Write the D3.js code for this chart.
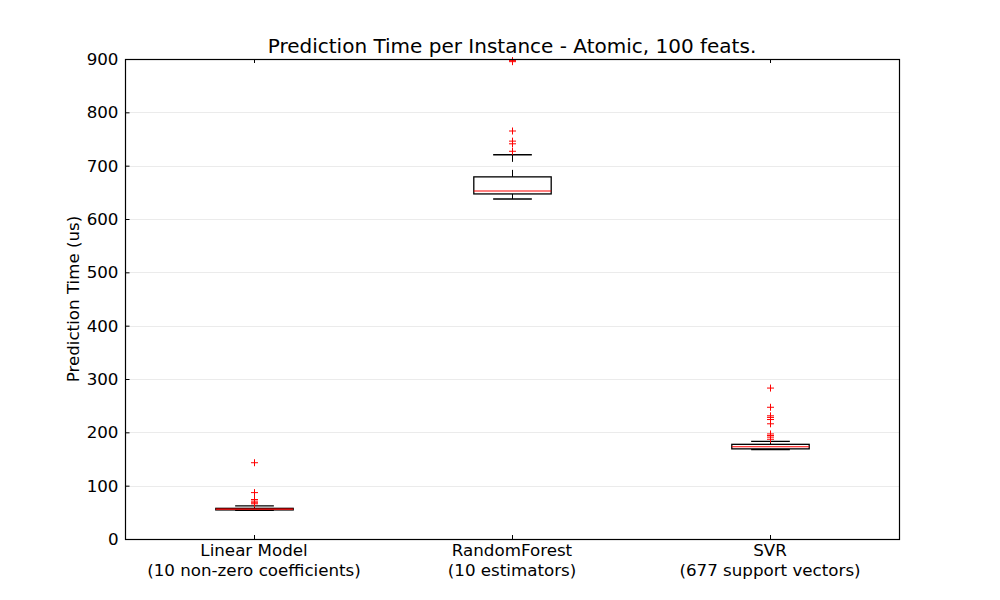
<!DOCTYPE html>
<html>
<head>
<meta charset="utf-8">
<script src="https://cdn.jsdelivr.net/npm/d3@7/dist/d3.min.js"></script>
<style>
  body { margin: 0; background: #fff; }
  svg { display: block; }
  text { font-family: "DejaVu Sans", sans-serif; fill: #000; }
</style>
</head>
<body>
<svg id="chart" width="1000" height="600"></svg>
<script>
// ---- data ----
const categories = ["Linear Model", "RandomForest", "SVR"];
const subLabels = ["(10 non-zero coefficients)", "(10 estimators)", "(677 support vectors)"];
const whiskerLow = [53.5, 637.5, 167.5];
const q1 = [54.5, 647, 169];
const medians = [56, 652.5, 173];
const q3 = [57.5, 679, 177.5];
const whiskerHigh = [62, 720.5, 183];
const outliersLinear = [143, 87, 74, 71, 68, 66];
const outliersForest = [897, 895, 765, 746, 741, 727];
const outliersSVR = [283, 247, 231, 228, 224, 216, 197, 194, 191, 187];
const outliers = [outliersLinear, outliersForest, outliersSVR];
const yTicks = [0, 100, 200, 300, 400, 500, 600, 700, 800, 900];
const titleText = "Prediction Time per Instance - Atomic, 100 feats.";
const yLabelText = "Prediction Time (us)";

// ---- layout ----
const svg = d3.select("#chart");
const pLeft = 125, pRight = 899, pTop = 59, pBottom = 539;
const tickFont = "16.7px";

const x = d3.scaleBand().domain(categories).range([pLeft, pRight]).padding(0);
const y = d3.scaleLinear().domain([0, 900]).range([pBottom, pTop]);
const boxW = x.bandwidth() * 0.3;
const capW = boxW / 2;
const cx = c => x(c) + x.bandwidth() / 2;

// gridlines
svg.append("g").selectAll("line").data(yTicks).join("line")
  .attr("x1", pLeft).attr("x2", pRight)
  .attr("y1", d => Math.round(y(d)) + 0.5).attr("y2", d => Math.round(y(d)) + 0.5)
  .attr("stroke", "#ebebeb").attr("stroke-width", 1);

// y axis (inward ticks)
const yAxis = svg.append("g").attr("transform", `translate(${pLeft + 0.5},0)`)
  .call(d3.axisLeft(y).tickValues(yTicks).tickSize(-4).tickPadding(7));
yAxis.select(".domain").remove();
yAxis.selectAll("text").style("font-size", tickFont).style("font-family", "DejaVu Sans");
yAxis.selectAll("line").attr("stroke", "#000");

// x ticks (inward, top and bottom)
const xTickG = svg.append("g");
categories.forEach(c => {
  xTickG.append("line").attr("x1", Math.round(cx(c)) + 0.5).attr("x2", Math.round(cx(c)) + 0.5)
    .attr("y1", pBottom).attr("y2", pBottom - 4).attr("stroke", "#000");
  xTickG.append("line").attr("x1", Math.round(cx(c)) + 0.5).attr("x2", Math.round(cx(c)) + 0.5)
    .attr("y1", pTop).attr("y2", pTop + 4).attr("stroke", "#000");
});

// x labels
const xl = svg.append("g");
categories.forEach((c, i) => {
  xl.append("text").attr("x", cx(c)).attr("y", 556).attr("text-anchor", "middle")
    .style("font-size", tickFont).text(c);
  xl.append("text").attr("x", cx(c)).attr("y", 576).attr("text-anchor", "middle")
    .style("font-size", tickFont).text(subLabels[i]);
});

// boxes
const g = svg.append("g");
categories.forEach((c, i) => {
  const xc = Math.round(cx(c)) + 0.5;
  // whiskers (dashed)
  g.append("line").attr("x1", xc).attr("x2", xc).attr("y1", y(q3[i])).attr("y2", y(whiskerHigh[i]))
    .attr("stroke", "#000").attr("stroke-dasharray", "7,8");
  g.append("line").attr("x1", xc).attr("x2", xc).attr("y1", y(q1[i])).attr("y2", y(whiskerLow[i]))
    .attr("stroke", "#000").attr("stroke-dasharray", "7,8");
  // caps
  [whiskerHigh[i], whiskerLow[i]].forEach(v => {
    g.append("line").attr("x1", xc - capW / 2).attr("x2", xc + capW / 2)
      .attr("y1", y(v)).attr("y2", y(v)).attr("stroke", "#000").attr("stroke-width", 1.3);
  });
  // box
  g.append("rect").attr("x", xc - boxW / 2).attr("width", boxW)
    .attr("y", y(q3[i])).attr("height", y(q1[i]) - y(q3[i]))
    .attr("fill", "none").attr("stroke", "#000").attr("stroke-width", 1.3);
  // median
  g.append("line").attr("x1", xc - boxW / 2).attr("x2", xc + boxW / 2)
    .attr("y1", y(medians[i])).attr("y2", y(medians[i])).attr("stroke", "#ff0000").attr("stroke-width", 1.1);
  // outliers
  outliers[i].forEach(v => {
    const yy = y(v);
    g.append("line").attr("x1", xc - 3.5).attr("x2", xc + 3.5).attr("y1", yy).attr("y2", yy).attr("stroke", "#ff0000");
    g.append("line").attr("x1", xc).attr("x2", xc).attr("y1", yy - 3.5).attr("y2", yy + 3.5).attr("stroke", "#ff0000");
  });
});

// frame
svg.append("rect").attr("x", pLeft + 0.5).attr("y", pTop + 0.5)
  .attr("width", pRight - pLeft).attr("height", pBottom - pTop)
  .attr("fill", "none").attr("stroke", "#000").attr("stroke-width", 1.2);

// title
svg.append("text").attr("x", (pLeft + pRight) / 2).attr("y", 53).attr("text-anchor", "middle")
  .style("font-size", "20px").text(titleText);

// y label
svg.append("text").attr("transform", `translate(79,${(pTop + pBottom) / 2}) rotate(-90)`)
  .attr("text-anchor", "middle").style("font-size", tickFont).text(yLabelText);
</script>
</body>
</html>
